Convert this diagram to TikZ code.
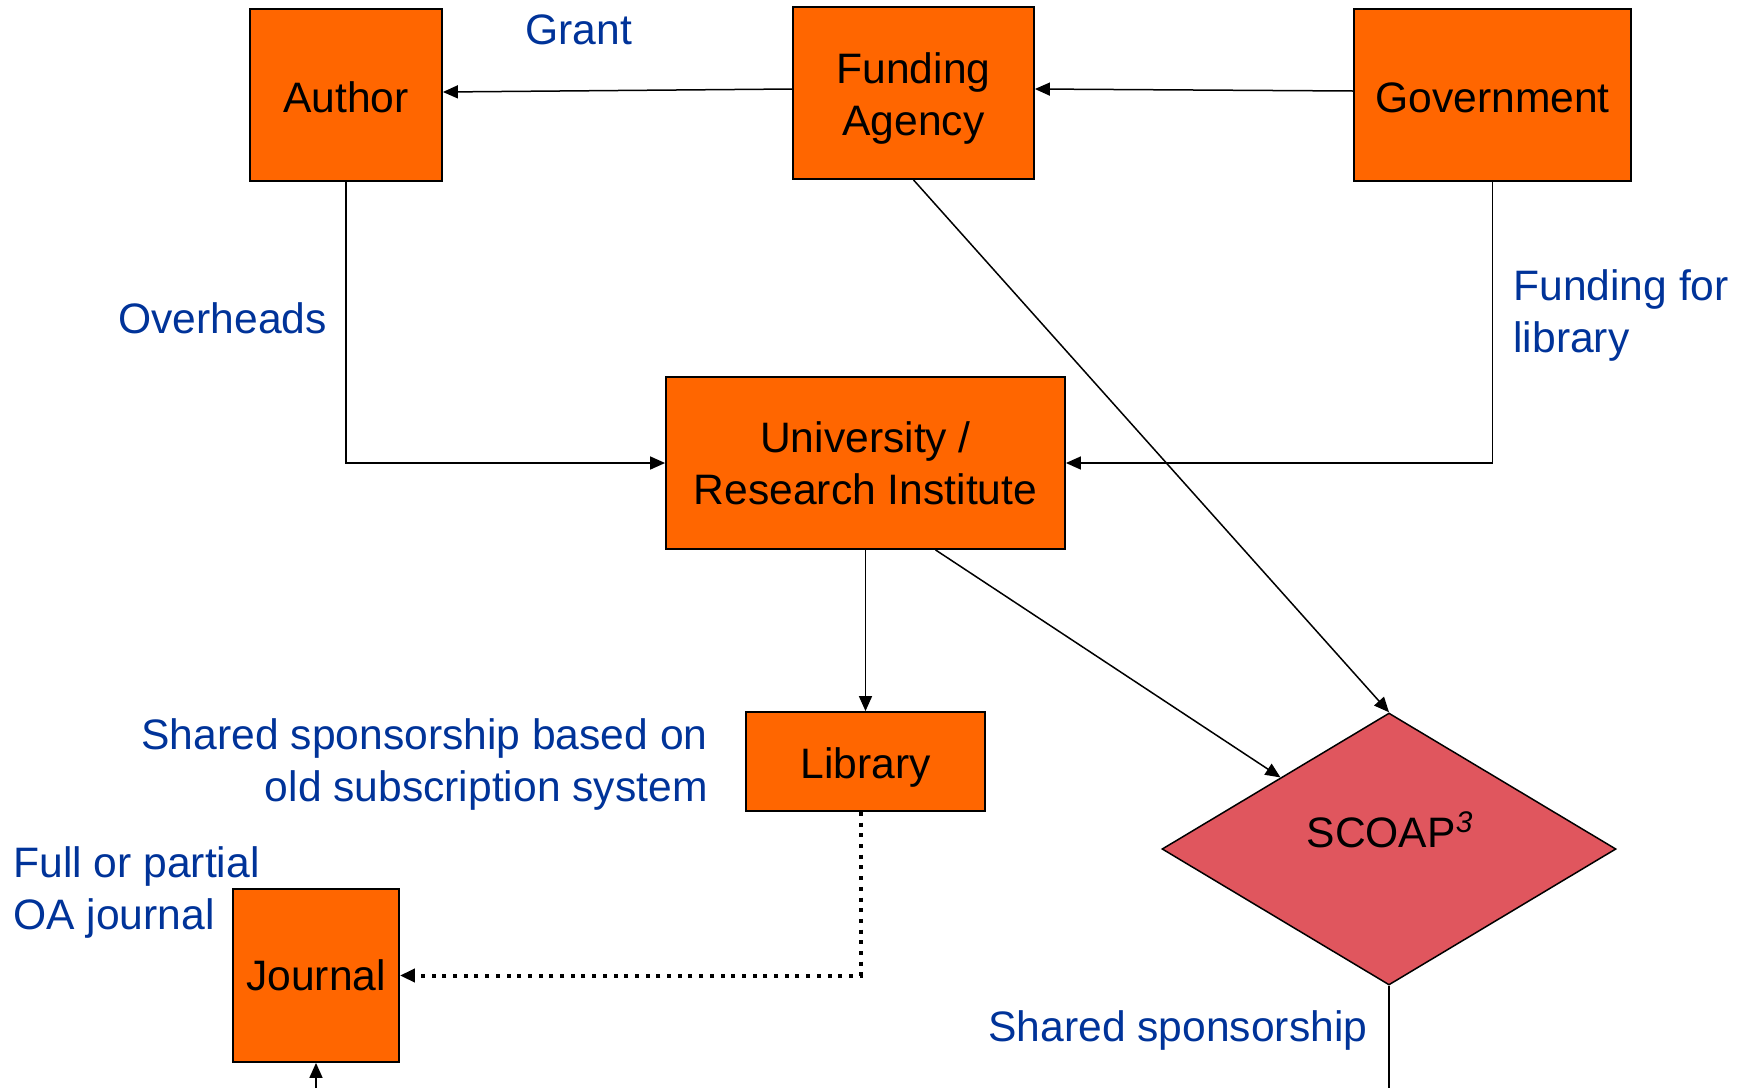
\documentclass[tikz,border=0pt]{standalone}
\usepackage{fontspec}
\setmainfont{Liberation Sans}
\usetikzlibrary{arrows.meta,shapes.geometric}
\definecolor{boxorange}{RGB}{255,102,0}
\definecolor{scoapred}{RGB}{224,86,94}
\definecolor{labelblue}{RGB}{0,51,153}
\begin{document}
\begin{tikzpicture}[x=0.5pt,y=-0.5pt,
  every node/.style={font=\fontsize{21.3}{26}\selectfont},
  box/.style={draw=black,line width=0.9pt,fill=boxorange,align=center,inner sep=0pt},
  lbl/.style={text=labelblue,inner sep=0pt},
  tip/.style={-{Triangle[length=7.5pt,width=6.5pt]}},
  conn/.style={line width=0.75pt,tip},
  plain/.style={line width=0.75pt}]
\useasboundingbox (0,0) rectangle (1740,1088);
% organisations
\node[box,minimum width=96pt,minimum height=86pt,text height=17.5pt] (author) at (346,95) {Author};
\node[box,minimum width=120.5pt,minimum height=86pt,text height=46.5pt] (fund) at (913.5,93) {Funding\\Agency};
\node[box,minimum width=138.5pt,minimum height=86pt,text height=17.5pt] (gov) at (1492.5,95) {Government};
\node[box,minimum width=199.5pt,minimum height=86pt] (uni) at (865.5,463) {University /\\Research Institute};
\node[box,minimum width=119.5pt,minimum height=49.5pt,text height=21pt] (lib) at (865.5,761.5) {Library};
\node[box,minimum width=83pt,minimum height=86.5pt] (journal) at (316,975.5) {Journal};
\node[diamond,draw=black,line width=0.75pt,fill=scoapred,inner sep=0pt,
      minimum width=227pt,minimum height=136pt] (scoap) at (1389,849) {};
\node[inner sep=0pt] (scoaptext) at (1390,830) {SCOAP\textsuperscript{\itshape 3}};
% free ends at the lower edge
\coordinate (jin) at (316,1088);
\coordinate (sout) at (1389,1088);
% money flows
\draw[conn] ([yshift=2pt]fund.west) -- ([yshift=1.5pt]author.east);
\draw[conn] ([yshift=2pt]gov.west) -- ([yshift=2pt]fund.east);
\draw[conn] (author.south) |- (uni.west);
\draw[conn] (gov.south) |- (uni.east);
\draw[conn] (fund.south) -- (scoap.north);
\draw[conn] ([xshift=35pt]uni.south) -- (scoap);
\draw[conn] (uni.south) -- (lib.north);
\draw[line width=2pt,dash pattern=on 2pt off 3.35pt,tip]
  ([xshift=-2.5pt]lib.south) |- (journal.east);
\draw[conn] (jin) -- (journal.south);
\draw[plain] (scoap.south) -- (sout);
% annotations
\node[lbl,anchor=west] (grant) at (525,30) {Grant};
\node[lbl,anchor=west] (overheads) at (118,318) {Overheads};
\node[lbl,anchor=west,align=left] (fundlib) at (1513,315.5) {Funding for\\library};
\node[lbl,anchor=east,align=right] (shared) at (708,764) {Shared sponsorship based on\\old subscription system};
\node[lbl,anchor=west,align=left] (oa) at (13,892) {Full or partial\\OA journal};
\node[lbl,anchor=west] (sharedscoap) at (988,1030) {Shared sponsorship};
\end{tikzpicture}
\end{document}
